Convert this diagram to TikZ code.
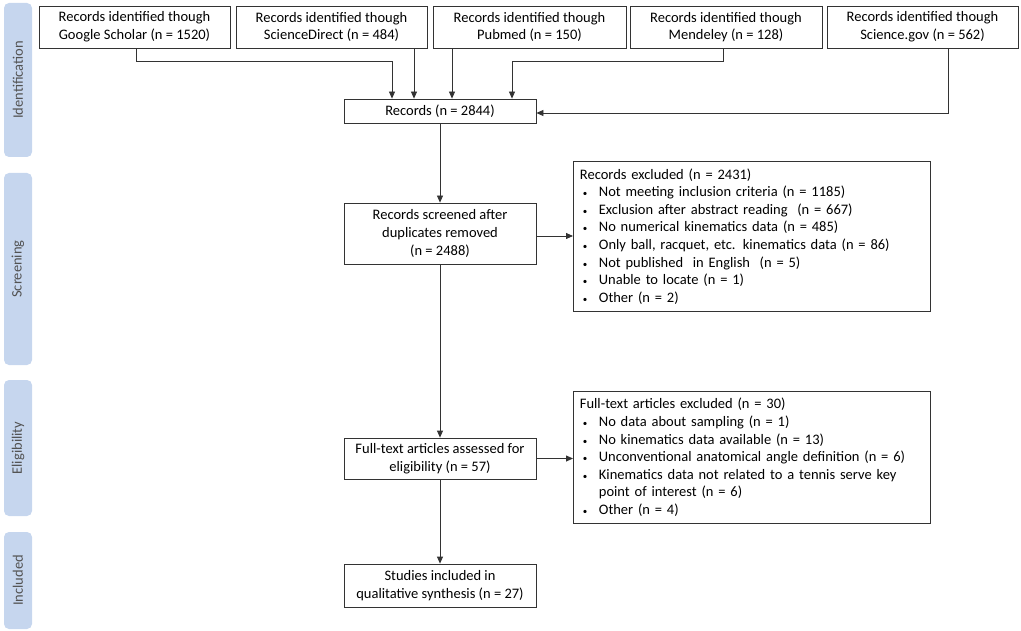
\documentclass[tikz,border=0pt]{standalone}
\usepackage{fontspec}
\setmainfont{Carlito}
\usetikzlibrary{arrows.meta,calc}
\definecolor{barblue}{HTML}{C6D6EE}
\definecolor{ink}{HTML}{333333}
\begin{document}
\begin{tikzpicture}[x=1pt,y=-1pt,
  font=\fontsize{14.5}{17.6}\selectfont,
  box/.style={draw=ink,line width=0.8pt,fill=white,align=center,inner sep=2pt},
  xbox/.style={draw=ink,line width=0.8pt,fill=white,align=left,anchor=north west,inner sep=0pt,text width=350pt},
  bar/.style={fill=barblue,rounded corners=5pt,minimum width=28pt,inner sep=0pt},
  barlab/.style={rotate=90,text=ink!85,font=\fontsize{14.5}{17}\selectfont},
  arr/.style={draw=ink,line width=0.8pt,-{Triangle[length=7pt,width=6pt]}}]
\useasboundingbox (0,0) rectangle (1021,631);
% phase bars
\node[bar,minimum height=154pt] (s1) at (18,80) {};
\node[barlab] (l1) at (s1.center) {Identification};
\node[bar,minimum height=192pt] (s2) at (18,269) {};
\node[barlab] (l2) at (s2.center) {Screening};
\node[bar,minimum height=136pt] (s3) at (18,448) {};
\node[barlab] (l3) at (s3.center) {Eligibility};
\node[bar,minimum height=97pt] (s4) at (18,580.5) {};
\node[barlab] (l4) at (s4.center) {Included};
% top boxes
\node[box,minimum width=191pt,minimum height=42pt] (b1) at (134.5,27) {Records identified though\\Google Scholar (n = 1520)};
\node[box,minimum width=191pt,minimum height=42pt] (b2) at (331.5,27) {Records identified though\\ScienceDirect (n = 484)};
\node[box,minimum width=193pt,minimum height=42pt] (b3) at (529.5,27) {Records identified though\\Pubmed (n = 150)};
\node[box,minimum width=192pt,minimum height=42pt] (b4) at (726,27) {Records identified though\\Mendeley (n = 128)};
\node[box,minimum width=191pt,minimum height=42pt] (b5) at (922.5,27) {Records identified though\\Science.gov (n = 562)};
% main column
\node[box,minimum width=192pt,minimum height=24pt] (rec) at (440,111) {Records (n = 2844)};
\node[box,minimum width=192pt,minimum height=61pt] (scr) at (440,233.5) {Records screened after\\duplicates removed\\(n = 2488)};
\node[box,minimum width=192pt,minimum height=41pt] (ft) at (440,458.5) {Full-text articles assessed for\\eligibility (n = 57)};
\node[box,minimum width=192pt,minimum height=43pt] (inc) at (440,585.5) {Studies included in\\qualitative synthesis (n = 27)};
% exclusion boxes
\newcommand{\bul}{\hspace*{3pt}\makebox[16pt][l]{\small •}}
\node[xbox,minimum width=357pt,minimum height=150pt] (ex1) at (573,161) {\hspace*{3pt}\parbox{350pt}{%
Records excluded (n = 2431)\\
\bul Not meeting inclusion criteria (n = 1185)\\
\bul Exclusion after abstract reading\ \ (n = 667)\\
\bul No numerical kinematics data (n = 485)\\
\bul Only ball, racquet, etc. kinematics data (n = 86)\\
\bul Not published\ \ in English\ \ (n = 5)\\
\bul Unable to locate (n = 1)\\
\bul Other (n = 2)}};
\node[xbox,minimum width=357pt,minimum height=132pt] (ex2) at (573,391) {\hspace*{3pt}\parbox{350pt}{%
Full-text articles excluded (n = 30)\\
\bul No data about sampling (n = 1)\\
\bul No kinematics data available (n = 13)\\
\bul Unconventional anatomical angle definition (n = 6)\\
\bul Kinematics data not related to a tennis serve key\\
\hspace*{19pt}point of interest (n = 6)\\
\bul Other (n = 4)}};
% entry points on records
\coordinate (e1) at ([xshift=-48pt]rec.north);
\coordinate (e2) at ([xshift=-26pt]rec.north);
\coordinate (e3) at ([xshift=12pt]rec.north);
\coordinate (e4) at ([xshift=72pt]rec.north);
\coordinate (k1) at ([xshift=1.5pt]b1.south);
\coordinate (k4) at ([xshift=-3pt]b4.south);
\coordinate (k5) at ([xshift=25.5pt]b5.south);
% connectors
\draw[arr] (k1) -- ++(0,-13pt) -| (e1);
\draw[arr] (b2.south -| e2) -- (e2);
\draw[arr] (b3.south -| e3) -- (e3);
\draw[arr] (k4) -- ++(0,-13pt) -| (e4);
\draw[arr] (k5) |- ([yshift=-2pt]rec.east);
\draw[arr] (rec) -- (scr);
\draw[arr] (scr) -- (ft);
\draw[arr] (ft) -- (inc);
\draw[arr] ([yshift=-2.5pt]scr.east) -- ([yshift=-2.5pt]scr.east -| ex1.west);
\draw[arr] (ft.east) -- (ft.east -| ex2.west);
\end{tikzpicture}
\end{document}
